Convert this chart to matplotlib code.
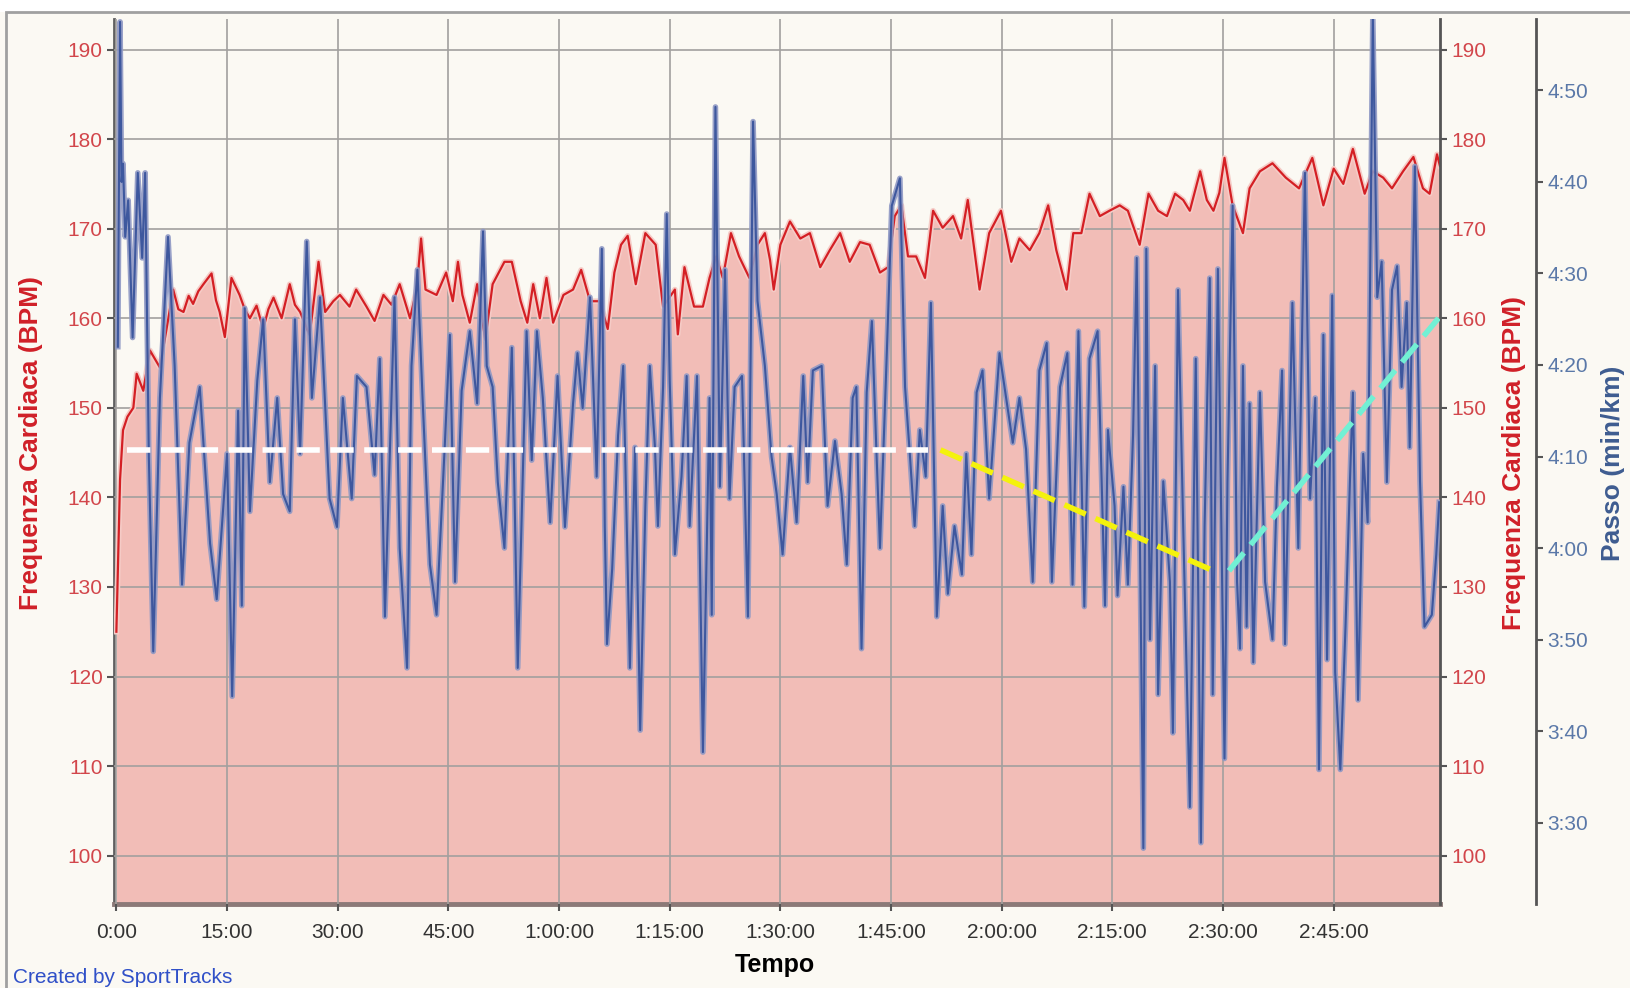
import numpy as np
import matplotlib
matplotlib.use('Agg')
import matplotlib.pyplot as plt
from matplotlib.ticker import FuncFormatter
from matplotlib.patches import Rectangle

plt.rcParams['font.family'] = ['Liberation Sans', 'DejaVu Sans']

# frequenza cardiaca: tempo [min], BPM
hr_t = [0.0, 0.3, 0.5, 0.9, 1.5, 2.3, 2.75, 3.65, 4.55, 5.9, 6.8, 7.7, 8.4, 9.1, 9.8,
        10.4, 11.1, 11.8, 12.9, 13.5, 14.0, 14.7, 15.6, 16.7, 17.4, 18.1, 19.0, 19.9,
        20.6, 21.3, 22.4, 23.5, 24.2, 24.9, 26.2, 27.4, 28.3, 29.4, 30.3, 31.6, 32.5,
        33.9, 35.0, 36.2, 37.3, 38.4, 39.8, 40.7, 41.3, 41.9, 43.4, 44.7, 45.6, 46.3,
        46.9, 47.9, 48.9, 50.0, 51.0, 52.6, 53.6, 54.8, 55.7, 56.5, 57.4, 58.3, 59.2,
        60.6, 61.9, 63.0, 64.2, 65.5, 66.6, 67.5, 68.4, 69.3, 70.4, 71.7, 73.1, 74.1,
        75.7, 76.1, 77.0, 78.3, 79.5, 80.4, 81.3, 82.2, 83.3, 84.4, 85.8, 86.9, 87.9,
        88.6, 89.1, 90.0, 91.3, 92.7, 94.0, 95.4, 96.7, 98.1, 99.4, 100.8, 102.1, 103.5,
        104.6, 105.5, 106.4, 107.3, 108.4, 109.6, 110.7, 112.0, 113.4, 114.5, 115.4,
        117.0, 118.3, 119.9, 121.3, 122.4, 123.8, 125.1, 126.3, 127.4, 128.8, 129.7,
        130.8, 131.9, 133.3, 134.6, 136.0, 137.1, 138.7, 139.9, 141.2, 142.4, 143.5,
        144.6, 145.5, 146.9, 147.8, 148.7, 149.5, 150.2, 151.3, 152.7, 153.6, 155.0,
        156.7, 158.5, 160.3, 162.1, 163.6, 165.0, 166.3, 167.6, 169.2, 170.3, 171.7,
        172.9, 174.4, 175.8, 177.1, 178.0, 179.0, 179.4]
hr_bpm = [125, 135, 142, 147.5, 149, 150, 153.8, 151.9, 156.4, 154.5, 158.8, 163.2, 161,
          160.7, 162.5, 161.6, 163, 163.8, 165, 162, 160.7, 157.9, 164.5, 162.6, 161,
          160, 161.4, 158.8, 161, 162.3, 160, 163.8, 161.5, 160.7, 158.1, 166.3, 160.7,
          161.9, 162.6, 161.3, 163.2, 161.3, 159.7, 162.6, 161.5, 163.8, 160, 163.2,
          168.9, 163.2, 162.6, 165.1, 161.9, 166.3, 162.6, 159.5, 163.8, 157.6, 163.8,
          166.3, 166.3, 161.9, 159.5, 163.8, 160, 164.5, 159.5, 162.6, 163.2, 165.4,
          161.9, 161.9, 158.8, 165.1, 168.2, 169.2, 163.8, 169.5, 168.2, 161.3, 163.2,
          158.2, 165.7, 161.3, 161.3, 164.5, 166.9, 164.5, 169.5, 166.9, 164.5, 168.2,
          169.5, 166.5, 163.2, 168.2, 170.8, 168.9, 169.5, 165.7, 167.6, 169.5, 166.3,
          168.5, 168.2, 165.1, 165.7, 171.4, 172.6, 166.9, 166.9, 164.5, 172, 170.1,
          171.4, 168.9, 173.2, 163.2, 169.5, 172, 166.3, 168.9, 167.6, 169.5, 172.6,
          167.6, 163.2, 169.5, 169.5, 173.9, 171.4, 172, 172.6, 172, 168.2, 173.9, 172,
          171.4, 173.9, 173.2, 172, 176.4, 173.2, 172, 174, 177.9, 172.6, 169.5, 174.5,
          176.4, 177.3, 175.7, 174.5, 177.9, 172.6, 176.7, 175, 178.9, 173.9, 176.4,
          175.7, 174.5, 176.4, 178, 174.5, 173.9, 178.3, 177]

# passo: tempo [min], secondi al km
pace_t = [0.2, 0.5, 0.7, 0.9, 1.2, 1.6, 2.2, 2.9, 3.5, 3.9, 4.4, 5.0, 5.9, 7.0, 7.9, 8.9,
          9.9, 11.3, 12.7, 13.6, 15.0, 15.7, 16.5, 17.0, 17.4, 18.1, 19.1, 19.9, 20.8,
          21.8, 22.6, 23.5, 24.2, 24.9, 25.8, 26.5, 27.6, 28.9, 29.9, 30.7, 31.9, 32.6,
          33.9, 35.0, 35.7, 36.4, 37.1, 37.7, 38.4, 39.4, 40.0, 40.8, 41.5, 42.5, 43.4,
          44.5, 45.2, 45.9, 46.8, 47.9, 48.9, 49.7, 50.2, 51.0, 51.7, 52.6, 53.6, 54.4,
          55.6, 56.3, 57.0, 57.8, 58.8, 59.8, 60.8, 61.9, 62.5, 63.2, 64.2, 65.1, 65.8,
          66.2, 66.5, 67.2, 68.0, 68.7, 69.6, 70.3, 71.0, 71.7, 72.3, 73.0, 73.4, 74.1,
          74.6, 75.0, 75.7, 76.6, 77.3, 77.7, 78.7, 79.5, 80.4, 80.7, 81.2, 81.8, 82.5,
          83.1, 83.8, 84.8, 85.6, 86.3, 86.9, 87.9, 88.8, 89.5, 90.3, 91.3, 92.2, 93.1,
          93.7, 94.4, 95.6, 96.4, 97.4, 98.3, 99.0, 99.8, 100.3, 101.0, 101.7, 102.4,
          103.0, 103.5, 104.4, 105.1, 106.2, 106.9, 107.5, 108.2, 108.9, 109.7, 110.4,
          111.2, 112.0, 112.7, 113.6, 114.6, 115.2, 115.9, 116.6, 117.4, 118.3, 119.7,
          120.6, 121.5, 122.4, 123.3, 124.2, 125.1, 126.1, 126.8, 127.9, 128.9, 129.6,
          130.4, 131.2, 131.9, 133.0, 134.0, 134.4, 135.3, 135.7, 136.5, 137.1, 137.8,
          138.3, 138.8, 139.2, 139.6, 140.1, 140.8, 141.2, 141.9, 142.8, 143.2, 143.9,
          144.6, 145.5, 146.3, 147.0, 147.5, 148.2, 148.6, 149.3, 150.2, 150.6, 151.3,
          151.9, 152.3, 152.7, 153.2, 153.6, 154.1, 155.0, 155.7, 156.7, 157.3, 158.0,
          158.4, 159.4, 160.2, 161.1, 161.8, 162.5, 163.0, 163.6, 164.1, 164.8, 165.2,
          165.9, 166.6, 167.2, 167.6, 168.3, 169.0, 169.6, 170.3, 170.9, 171.5, 172.2,
          172.9, 173.6, 174.2, 174.9, 175.3, 176.0, 176.7, 177.3, 178.3, 178.9, 179.3]
pace_s = [262, 297.5, 280, 282, 274, 278, 263, 281, 271.7, 281, 250, 228.7, 256.4, 274,
          259.9, 236, 251.5, 257.6, 240.5, 234.4, 250.3, 223.8, 255, 233.7, 266.2, 244,
          258.3, 265, 247.2, 256.4, 245.9, 244, 265, 250.3, 273.5, 256.4, 267.4, 245.4,
          242.3, 256.4, 245.4, 258.8, 257.6, 248, 260.7, 232.5, 251.5, 267.4, 240, 226.9,
          259.9, 270.4, 256.4, 238.2, 232.7, 251, 263.3, 236.3, 257.2, 263.7, 255.8,
          274.6, 259.9, 257.6, 247.2, 240, 261.9, 226.9, 263.7, 249.6, 263.7, 256.4,
          242.8, 258.8, 242.3, 255.8, 261.3, 255.3, 267.4, 247.8, 272.7, 242.4, 229.5,
          237.7, 252.3, 259.9, 226.9, 251, 220.1, 244.6, 259.9, 251, 242.4, 257.6, 276.5,
          258.3, 239.3, 247.8, 258.8, 242.4, 258.8, 217.7, 256.4, 232.7, 288.2, 246.7,
          270.4, 245.4, 257.6, 258.8, 232.5, 286.6, 267, 259.9, 250, 245.9, 239.3, 251,
          242.8, 258.8, 247.2, 259.4, 259.9, 244.6, 251.7, 245.9, 238.2, 256.4, 257.6,
          229, 257, 264.8, 251, 240, 260.7, 277.4, 280.4, 257.6, 250.8, 242.4, 252.9,
          247.8, 266.8, 232.5, 244.6, 235, 242.4, 237.1, 250.3, 239.3, 257, 259.4, 245.4,
          261.3, 256.4, 251.5, 256.4, 250.8, 236.3, 259.4, 262.4, 236.3, 257.6, 261.3,
          236, 263.7, 233.6, 260.7, 263.7, 233.7, 252.9, 244.6, 234.8, 246.7, 236, 252.3,
          271.7, 236.3, 207.2, 272.7, 230, 259.9, 224, 247.3, 236.3, 219.8, 268.2, 242.4,
          211.7, 260.7, 207.8, 242.4, 269.5, 224, 270.5, 217, 247.2, 277.4, 236.3, 229,
          259.9, 231.4, 255.8, 227.5, 257, 236.3, 230, 246.7, 259.4, 229.5, 266.8, 240,
          281, 245.4, 256.4, 215.8, 263.3, 227.8, 267.6, 226.4, 215.8, 231.4, 247.3, 257,
          223.4, 250.3, 242.8, 298.2, 267.4, 271.3, 247.2, 268.2, 270.8, 257.6, 266.8,
          251, 281.7, 247.3, 231.4, 232.7, 239.3, 245]

# linee tratteggiate di commento: (tempo, BPM)
white_t, white_bpm = [1.4, 110.0], [145.3, 145.3]
yellow_t, yellow_bpm = [111.7, 148.7], [145.3, 131.8]
cyan_t, cyan_bpm = [150.8, 179.7], [131.8, 160.5]

hr_ticks = list(range(100, 191, 10))
pace_ticks = list(range(210, 291, 10))
time_ticks = list(range(0, 166, 15))

bg = '#FBF9F3'
red_txt = '#D2464B'
blue_txt = '#5A78A8'

fig = plt.figure(figsize=(16.3, 9.88), dpi=100, facecolor=bg)
# striscia bianca in alto e cornice grigia
fig.patches.append(Rectangle((0, 0.988), 1, 0.02, transform=fig.transFigure,
                             facecolor='white', edgecolor='none', zorder=0))
fig.patches.append(Rectangle((0.0037, -0.05), 1.1, 1.038, transform=fig.transFigure,
                             facecolor='none', edgecolor='#A0A0A0', lw=2, zorder=1))

ax = fig.add_axes([0.0699, 0.085, 0.8135, 0.8957])
ax.set_facecolor(bg)
hr_bottom = 94.6
ax.fill_between(hr_t, hr_bpm, hr_bottom, color='#F2BDB7', lw=0, zorder=1)
ax.plot(hr_t, hr_bpm, color='#F5CBC6', lw=4, zorder=2.6)
ax.plot(hr_t, hr_bpm, color='#D41F24', lw=1.6, zorder=2.7)
ax.set_xlim(-0.33, 179.4)
ax.set_ylim(hr_bottom, 193.4)
ax.set_yticks(hr_ticks)
ax.set_xticks(time_ticks)


def fmt_time(v, pos):
    m = int(round(v))
    if m >= 60:
        return f'{m // 60}:{m % 60:02d}:00'
    return f'{m}:00'


def fmt_pace(v, pos):
    s = int(round(v))
    return f'{s // 60}:{s % 60:02d}'


ax.xaxis.set_major_formatter(FuncFormatter(fmt_time))
ax.grid(True, color='#A2A09E', lw=1.2, zorder=2.5)
ax.set_axisbelow(False)
ax.tick_params(axis='y', colors='#555555', labelcolor=red_txt, labelsize=15, length=5,
               width=1.5, pad=3)
ax.tick_params(axis='x', colors='#555555', labelcolor='#333333', labelsize=15, length=5,
               width=1.5, pad=9)
for s in ['top', 'right']:
    ax.spines[s].set_visible(False)
ax.spines['left'].set_color('#606060')
ax.spines['left'].set_linewidth(2)
ax.spines['bottom'].set_color('#8C7A78')
ax.spines['bottom'].set_linewidth(3.5)

# asse destro BPM
ax_r = ax.twinx()
ax_r.set_ylim(ax.get_ylim())
ax_r.set_yticks(hr_ticks)
ax_r.tick_params(axis='y', colors='#555555', labelcolor=red_txt, labelsize=15, length=5,
                 width=1.5, pad=3)
for s in ['top', 'left', 'bottom']:
    ax_r.spines[s].set_visible(False)
ax_r.spines['right'].set_color('#555555')
ax_r.spines['right'].set_linewidth(2)

# asse passo
ax_p = ax.twinx()
ax_p.set_ylim(201.1, 297.8)
ax_p.set_yticks(pace_ticks)
ax_p.yaxis.set_major_formatter(FuncFormatter(fmt_pace))
ax_p.spines['right'].set_position(('axes', 1.0724))
for s in ['top', 'left', 'bottom']:
    ax_p.spines[s].set_visible(False)
ax_p.spines['right'].set_color('#555555')
ax_p.spines['right'].set_linewidth(2)
ax_p.tick_params(axis='y', colors='#555555', labelcolor=blue_txt, labelsize=15, length=5,
                 width=1.5, pad=3)
ax_p.plot(pace_t, pace_s, color='#8E98C4', lw=4.0, alpha=0.9, zorder=2)
ax_p.plot(pace_t, pace_s, color='#34509A', lw=1.5, alpha=0.9, zorder=3)

# tratteggi
dash = dict(lw=4, dashes=(4.2, 1.9), transform=ax.transData, zorder=6,
            solid_capstyle='butt', dash_capstyle='butt')
ax_p.plot(white_t, white_bpm, color='white', **dash)
ax_p.plot(yellow_t, yellow_bpm, color='#F4F20C', **dash)
ax_p.plot(cyan_t, cyan_bpm, color='#72F0D4', **dash)

fig.text(0.019, 0.5516, 'Frequenza Cardiaca (BPM)', rotation=90, ha='center', va='center',
         color='#D02028', fontsize=19, fontweight='bold')
fig.text(0.929, 0.531, 'Frequenza Cardiaca (BPM)', rotation=90, ha='center', va='center',
         color='#D02028', fontsize=19, fontweight='bold')
fig.text(0.9897, 0.531, 'Passo (min/km)', rotation=90, ha='center', va='center',
         color='#3E5C90', fontsize=19, fontweight='bold')
fig.text(0.4755, 0.0233, 'Tempo', ha='center', va='center', color='black',
         fontsize=18, fontweight='bold')
fig.text(0.0077, 0.011, 'Created by SportTracks', ha='left', va='center',
         color='#3050C8', fontsize=15)

fig.savefig('out.png', dpi=100, facecolor=bg)
